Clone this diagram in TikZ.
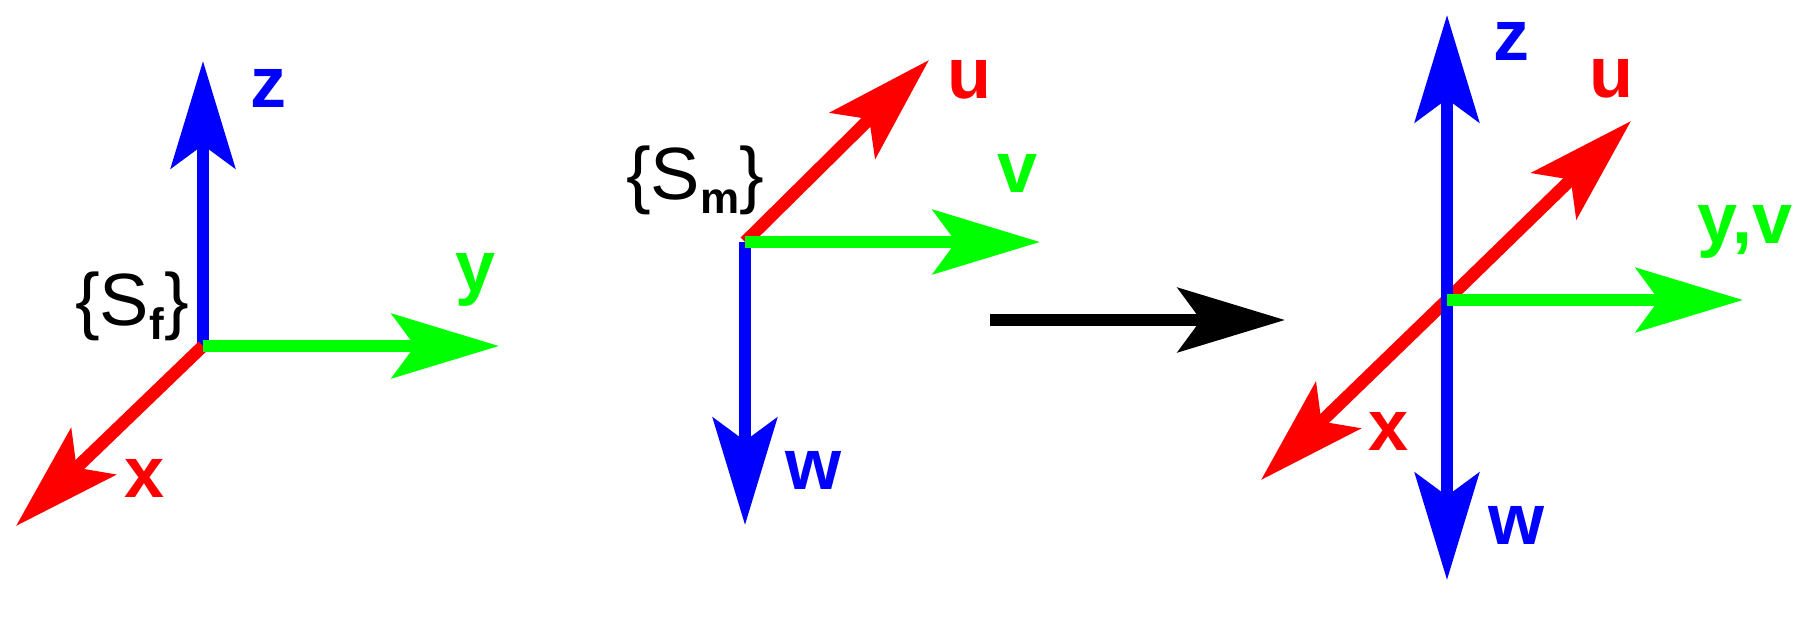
\documentclass[tikz,border=0pt]{standalone}
\usepackage{fontspec}
\setmainfont{Liberation Sans}
\usetikzlibrary{arrows.meta}
\begin{document}
\begin{tikzpicture}[x=1pt,y=-1pt,
  ax/.style={line width=12.5pt,-{Stealth[length=107pt,width=64pt,inset=23pt]}},
  lb/.style={font=\fontsize{72}{72}\selectfont\bfseries,inner sep=0pt},
  sl/.style={font=\fontsize{74}{74}\selectfont,inner sep=0pt}]
\definecolor{gr}{RGB}{0,255,0}
\newcommand{\subsc}[1]{\raisebox{-0.2em}{\fontsize{44}{44}\selectfont\bfseries #1}}
\useasboundingbox (0,0) rectangle (1805,622);
% frame 1
\coordinate (o1) at (203,346);
\coordinate (z1) at (203,61); \coordinate (y1) at (499,346); \coordinate (x1) at (16,526);
\draw[ax,blue] (o1) -- (z1);
\draw[ax,red] (o1) -- (x1);
\draw[ax,gr] (o1) -- (y1);
\node[lb,blue] (lz1) at (268,88) {z};
\node[lb,gr] (ly1) at (476,280) {y};
\node[lb,red] (lx1) at (145,478) {x};
\node[sl] (s1) at (132,306) {\{S\subsc{f}\}};
% frame 2
\coordinate (o2) at (745,242);
\coordinate (u2) at (929,60); \coordinate (v2) at (1040,242); \coordinate (w2) at (745,525);
\draw[ax,blue] (o2) -- (w2);
\draw[ax,red] (o2) -- (u2);
\draw[ax,gr] (o2) -- (v2);
\node[lb,red] (lu2) at (969,80) {u};
\node[lb,gr] (lv2) at (1018,173) {v};
\node[lb,blue] (lw2) at (813,470) {w};
\node[sl] (s2) at (695,180) {\{S\subsc{m}\}};
% transition arrow
\coordinate (a1) at (990,320); \coordinate (a2) at (1285,320);
\draw[ax] (a1) -- (a2);
% frame 3
\coordinate (o3) at (1447,300);
\coordinate (z3) at (1447,15); \coordinate (u3) at (1631,121); \coordinate (v3) at (1743,300);
\coordinate (x3) at (1261,480); \coordinate (w3) at (1447,580);
\draw[ax,red] (o3) -- (u3);
\draw[ax,red] (o3) -- (x3);
\draw[ax,blue] (o3) -- (z3);
\draw[ax,blue] (o3) -- (w3);
\draw[ax,gr] (o3) -- (v3);
\node[lb,blue] (lz3) at (1511,41) {z};
\node[lb,red] (lu3) at (1611,79) {u};
\node[lb,gr] (lv3) at (1745,232) {y,v};
\node[lb,red] (lx3) at (1389,431) {x};
\node[lb,blue] (lw3) at (1516,525) {w};
\end{tikzpicture}
\end{document}
